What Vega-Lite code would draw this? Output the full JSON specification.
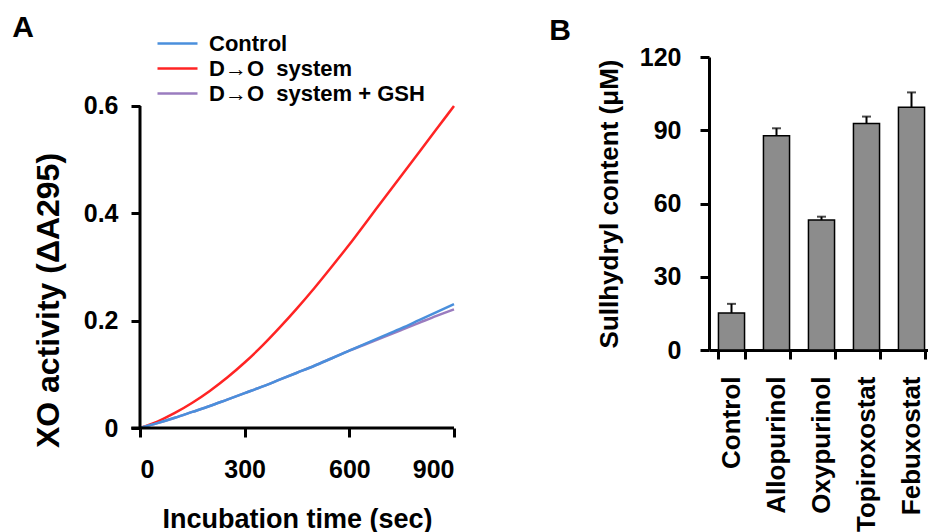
{
  "$schema": "https://vega.github.io/schema/vega-lite/v6.json",
  "background": "white",
  "padding": {"left": 12, "top": 13, "right": 0, "bottom": 0},
  "config": {
    "font": "Liberation Sans",
    "view": {"stroke": null},
    "concat": {"spacing": 90},
    "axis": {
      "domainColor": "black", "domainWidth": 3, "tickColor": "black", "tickWidth": 3, "tickSize": 9,
      "labelFont": "Liberation Sans", "labelFontWeight": "bold", "labelFontSize": 25, "labelColor": "black",
      "titleFont": "Liberation Sans", "titleFontWeight": "bold", "titleFontSize": 26, "titleColor": "black",
      "grid": false
    },
    "title": {"font": "Liberation Sans", "fontSize": 30, "fontWeight": "bold", "color": "black", "anchor": "start", "frame": "bounds"}
  },
  "hconcat": [
    {
      "title": {"text": "A", "dx": -20, "dy": -10},
      "width": 314,
      "height": 371,
      "layer": [
        {
          "data": {"values": [
            {"t": 0, "v": 0, "s": "D→O\u00a0 system"},
            {"t": 50, "v": 0.012, "s": "D→O\u00a0 system"},
            {"t": 100, "v": 0.028, "s": "D→O\u00a0 system"},
            {"t": 150, "v": 0.047, "s": "D→O\u00a0 system"},
            {"t": 200, "v": 0.069, "s": "D→O\u00a0 system"},
            {"t": 250, "v": 0.094, "s": "D→O\u00a0 system"},
            {"t": 300, "v": 0.122, "s": "D→O\u00a0 system"},
            {"t": 350, "v": 0.153, "s": "D→O\u00a0 system"},
            {"t": 400, "v": 0.187, "s": "D→O\u00a0 system"},
            {"t": 450, "v": 0.223, "s": "D→O\u00a0 system"},
            {"t": 500, "v": 0.261, "s": "D→O\u00a0 system"},
            {"t": 550, "v": 0.301, "s": "D→O\u00a0 system"},
            {"t": 600, "v": 0.342, "s": "D→O\u00a0 system"},
            {"t": 650, "v": 0.385, "s": "D→O\u00a0 system"},
            {"t": 700, "v": 0.428, "s": "D→O\u00a0 system"},
            {"t": 750, "v": 0.471, "s": "D→O\u00a0 system"},
            {"t": 800, "v": 0.514, "s": "D→O\u00a0 system"},
            {"t": 850, "v": 0.557, "s": "D→O\u00a0 system"},
            {"t": 900, "v": 0.6, "s": "D→O\u00a0 system"},
            {"t": 0, "v": 0, "s": "D→O\u00a0 system + GSH"},
            {"t": 50, "v": 0.009, "s": "D→O\u00a0 system + GSH"},
            {"t": 100, "v": 0.019, "s": "D→O\u00a0 system + GSH"},
            {"t": 150, "v": 0.03, "s": "D→O\u00a0 system + GSH"},
            {"t": 200, "v": 0.041, "s": "D→O\u00a0 system + GSH"},
            {"t": 250, "v": 0.053, "s": "D→O\u00a0 system + GSH"},
            {"t": 300, "v": 0.065, "s": "D→O\u00a0 system + GSH"},
            {"t": 350, "v": 0.077, "s": "D→O\u00a0 system + GSH"},
            {"t": 400, "v": 0.09, "s": "D→O\u00a0 system + GSH"},
            {"t": 450, "v": 0.103, "s": "D→O\u00a0 system + GSH"},
            {"t": 500, "v": 0.116, "s": "D→O\u00a0 system + GSH"},
            {"t": 550, "v": 0.13, "s": "D→O\u00a0 system + GSH"},
            {"t": 600, "v": 0.144, "s": "D→O\u00a0 system + GSH"},
            {"t": 650, "v": 0.157, "s": "D→O\u00a0 system + GSH"},
            {"t": 700, "v": 0.17, "s": "D→O\u00a0 system + GSH"},
            {"t": 750, "v": 0.183, "s": "D→O\u00a0 system + GSH"},
            {"t": 800, "v": 0.196, "s": "D→O\u00a0 system + GSH"},
            {"t": 850, "v": 0.209, "s": "D→O\u00a0 system + GSH"},
            {"t": 900, "v": 0.221, "s": "D→O\u00a0 system + GSH"},
            {"t": 0, "v": 0, "s": "Control"},
            {"t": 50, "v": 0.009, "s": "Control"},
            {"t": 100, "v": 0.019, "s": "Control"},
            {"t": 150, "v": 0.03, "s": "Control"},
            {"t": 200, "v": 0.041, "s": "Control"},
            {"t": 250, "v": 0.053, "s": "Control"},
            {"t": 300, "v": 0.065, "s": "Control"},
            {"t": 350, "v": 0.077, "s": "Control"},
            {"t": 400, "v": 0.09, "s": "Control"},
            {"t": 450, "v": 0.103, "s": "Control"},
            {"t": 500, "v": 0.116, "s": "Control"},
            {"t": 550, "v": 0.13, "s": "Control"},
            {"t": 600, "v": 0.144, "s": "Control"},
            {"t": 650, "v": 0.158, "s": "Control"},
            {"t": 700, "v": 0.172, "s": "Control"},
            {"t": 750, "v": 0.186, "s": "Control"},
            {"t": 800, "v": 0.201, "s": "Control"},
            {"t": 850, "v": 0.216, "s": "Control"},
            {"t": 900, "v": 0.231, "s": "Control"}
          ]},
          "mark": {"type": "line", "strokeWidth": 2.5, "interpolate": "monotone"},
          "encoding": {
            "x": {"field": "t", "type": "quantitative", "scale": {"domain": [0, 900], "nice": false},
              "axis": {"values": [0, 300, 600, 900], "title": "Incubation time (sec)", "labelPadding": 20, "titlePadding": 24, "titleFontSize": 27, "domain": false}},
            "y": {"field": "v", "type": "quantitative", "scale": {"domain": [0, 0.6913], "nice": false},
              "axis": {"values": [0, 0.2, 0.4, 0.6], "labelExpr": "datum.value == 0 ? '0' : format(datum.value, '.1f')", "domain": false,
                "title": "XO activity (ΔA295)", "titleFontSize": 32, "labelPadding": 13, "titlePadding": 18, "titleY": 243}},
            "color": {"field": "s", "type": "nominal",
              "scale": {"domain": ["Control", "D→O\u00a0 system", "D→O\u00a0 system + GSH"], "range": ["#4a8fdc", "#ff2424", "#9a7cbf"]},
              "legend": {"orient": "none", "legendX": 16, "legendY": -26, "title": null, "symbolType": "stroke", "symbolSize": 1600,
                "symbolStrokeWidth": 2.5, "labelFontSize": 22, "labelFontWeight": "bold", "labelColor": "black", "labelFont": "Liberation Sans",
                "labelOffset": 10, "labelLimit": 400, "clipHeight": 25, "rowPadding": 0}}
          }
        },
        {
          "data": {"values": [{}]},
          "mark": {"type": "rule", "color": "black", "strokeWidth": 3},
          "encoding": {"x": {"datum": 0, "type": "quantitative"}, "y": {"datum": 0, "type": "quantitative"}, "y2": {"datum": 0.6}}
        },
        {
          "data": {"values": [{}]},
          "mark": {"type": "rule", "color": "black", "strokeWidth": 3},
          "encoding": {"x": {"datum": -25, "type": "quantitative"}, "x2": {"datum": 900}, "y": {"datum": 0, "type": "quantitative"}}
        }
      ]
    },
    {
      "title": {"text": "B", "dx": -47, "dy": 5},
      "width": {"step": 45},
      "height": 293,
      "data": {"values": [
        {"drug": "Control", "v": 15.2, "hi": 18.9},
        {"drug": "Allopurinol", "v": 87.7, "hi": 90.8},
        {"drug": "Oxypurinol", "v": 53.2, "hi": 54.6},
        {"drug": "Topiroxostat", "v": 92.8, "hi": 95.6},
        {"drug": "Febuxostat", "v": 99.4, "hi": 105.5}
      ]},
      "encoding": {
        "x": {"field": "drug", "type": "nominal", "sort": null, "scale": {"paddingInner": 0.42, "paddingOuter": 0.21},
          "axis": {"labelAngle": -90, "tickBand": "extent", "title": null, "labelPadding": 17, "labelFontSize": 26}}
      },
      "layer": [
        {"mark": {"type": "rule", "color": "black", "strokeWidth": 2},
          "encoding": {"y": {"field": "v", "type": "quantitative"}, "y2": {"field": "hi"}}},
        {"mark": {"type": "bar", "fill": "#8c8c8c", "stroke": "black", "strokeWidth": 1.5},
          "encoding": {"y": {"field": "v", "type": "quantitative", "scale": {"domain": [0, 120], "nice": false},
            "axis": {"values": [0, 30, 60, 90, 120], "title": "Sullhydryl content (μM)", "labelPadding": 19, "titlePadding": 17}}}},
        {"mark": {"type": "tick", "color": "black", "thickness": 2, "size": 9},
          "encoding": {"y": {"field": "hi", "type": "quantitative"}}}
      ]
    }
  ]
}
